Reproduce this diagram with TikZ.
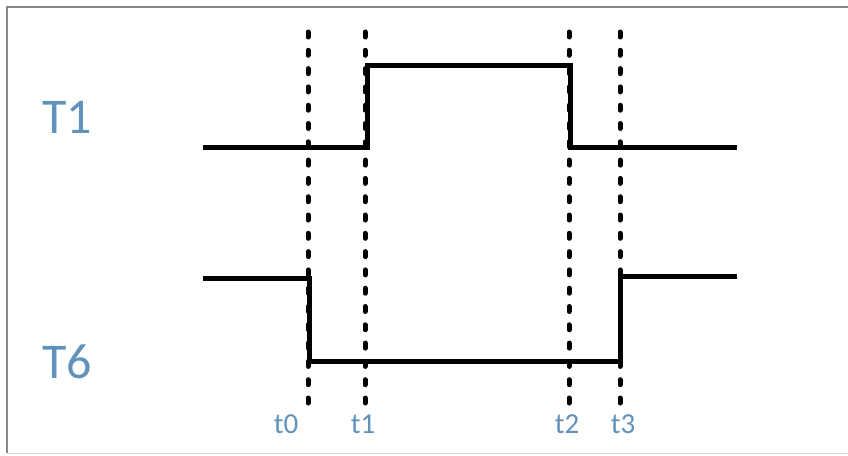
\documentclass[tikz,border=0pt]{standalone}
\usepackage{fontspec}
\setmainfont{Carlito}
\definecolor{labelblue}{RGB}{96,146,188}
\definecolor{framegray}{RGB}{135,135,135}
\begin{document}
\begin{tikzpicture}[x=1pt,y=-1pt,
  signal/.style={line width=5pt,black,line join=miter,line cap=butt},
  marker/.style={line width=5pt,black,line cap=round,dash pattern=on 5pt off 13.3pt},
  trace/.style={font=\fontsize{50}{50}\selectfont,text=labelblue,inner sep=0pt},
  tick/.style={font=\fontsize{29}{29}\selectfont,text=labelblue,inner sep=0pt}]
\useasboundingbox (0,0) rectangle (848,455);
\fill[white] (0,0) rectangle (848,455);
% frame
\draw[framegray,line width=1.6pt] (7,453) -- (7,7) -- (848,7);
\draw[black!15,line width=1pt] (7,453) -- (848,453);

% time markers
\foreach \n/\x in {0/308,1/365,2/569,3/620}{
  \coordinate (m\n top) at (\x,32);
  \coordinate (m\n bot) at (\x,405);
  \draw[marker] (m\n top) -- (m\n bot);
}

% signal levels
\coordinate (a0) at (203,147);
\coordinate (a1) at (367,147);
\coordinate (a2) at (367,65);
\coordinate (a3) at (570,65);
\coordinate (a4) at (570,147);
\coordinate (a5) at (737,147);
\draw[signal] (a0) -- (a1) -- (a2) -- (a3) -- (a4) -- (a5);

\coordinate (b0) at (203,278);
\coordinate (b1) at (309,278);
\coordinate (b2) at (309,361);
\coordinate (b3) at (620,361);
\coordinate (b4) at (620,276);
\coordinate (b5) at (737,276);
\draw[signal] (b0) -- (b1) -- (b2) -- (b3) -- (b4) -- (b5);

% labels
\node[trace] (T1) at (67,117) {T1};
\node[trace] (T6) at (67,362) {T6};
\node[tick] (t0) at (286,424) {t0};
\node[tick] (t1) at (363,424) {t1};
\node[tick] (t2) at (567,424) {t2};
\node[tick] (t3) at (623,424) {t3};
\end{tikzpicture}
\end{document}
